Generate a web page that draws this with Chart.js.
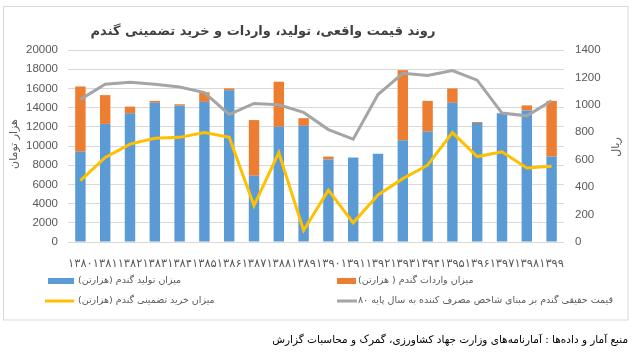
<!DOCTYPE html>
<html><head><meta charset="utf-8">
<script src="https://cdn.jsdelivr.net/npm/chart.js@4"></script>
<style>html,body{margin:0;padding:0;background:#fff;}</style>
</head><body>
<canvas id="c" width="633" height="357"></canvas>
<script>
const years = ['۱۳۸۰','۱۳۸۱','۱۳۸۲','۱۳۸۳','۱۳۸۴','۱۳۸۵','۱۳۸۶','۱۳۸۷','۱۳۸۸','۱۳۸۹','۱۳۹۰','۱۳۹۱','۱۳۹۲','۱۳۹۳','۱۳۹۴','۱۳۹۵','۱۳۹۶','۱۳۹۷','۱۳۹۸','۱۳۹۹'];
const production = [9400,12300,13400,14500,14200,14600,15800,6900,12000,12100,8600,8800,9200,10600,11500,14500,12400,13400,13700,8900];
const imports = [6800,3000,700,200,150,1000,200,5800,4700,800,300,0,0,7300,3200,1500,100,0,530,5800];
const purchase = [6400,8800,10200,10800,10900,11400,10900,3800,9300,1200,5400,2000,4900,6600,8000,11400,8900,9400,7700,7900];
const realPrice = [1040,1150,1165,1150,1130,1090,930,1010,1000,945,820,750,1075,1230,1215,1250,1180,940,920,1030];

const leftTicks = {min:0, max:20000, step:2000};
const rightTicks = {min:0, max:1400, step:200};

const title = 'روند قیمت واقعی، تولید، واردات و خرید تضمینی گندم';
const leftTitle = 'هزار تومان';
const rightTitle = 'ریال';
const legendItems = [
  {text:'میزان تولید گندم (هزارتن)', color:'#5b9bd5', kind:'box'},
  {text:'میزان واردات گندم ( هزارتن)', color:'#ed7d31', kind:'box'},
  {text:'میزان خرید تضمینی گندم (هزارتن)', color:'#ffc000', kind:'line'},
  {text:'قیمت حقیقی گندم بر مبنای شاخص مصرف کننده به سال پایه ۸۰', color:'#a5a5a5', kind:'line'}
];
const footer = 'منبع آمار و داده‌ها : آمارنامه‌های وزارت جهاد کشاورزی، گمرک و محاسبات گزارش';

const AR = '"DejaVu Sans", sans-serif';
function fitSize(ctx, text, width, weight, base) {
  ctx.font = weight + ' 20px ' + AR;
  const w = ctx.measureText(text).width;
  return Math.min(base, 20 * width / w);
}
function drawAr(ctx, text, x, y, size, weight, color, align) {
  ctx.save();
  ctx.direction = 'rtl';
  ctx.font = weight + ' ' + size + 'px ' + AR;
  ctx.fillStyle = color;
  ctx.textAlign = align;
  ctx.textBaseline = 'middle';
  ctx.fillText(text, x, y);
  ctx.restore();
}

const decor = {
  id:'decor',
  beforeDraw(chart) {
    const ctx = chart.ctx;
    ctx.save();
    ctx.fillStyle = '#fff';
    ctx.fillRect(0,0,chart.width,chart.height);
    ctx.strokeStyle = '#d9d9d9';
    ctx.lineWidth = 1;
    ctx.strokeRect(3.5,6.5,624.5,313.5);
    ctx.restore();
  },
  afterDraw(chart) {
    const ctx = chart.ctx;
    drawAr(ctx, title, 263, 32, 13, 'bold', '#404040', 'center');
    ctx.save();
    ctx.translate(14, 144); ctx.rotate(-Math.PI/2);
    drawAr(ctx, leftTitle, 0, 0, 11, 'normal', '#595959', 'center');
    ctx.restore();
    ctx.save();
    ctx.translate(616, 147); ctx.rotate(-Math.PI/2);
    drawAr(ctx, rightTitle, 0, 0, 11, 'normal', '#595959', 'center');
    ctx.restore();
    const pos = [
      {sx:48, sw:26, tx:78, tw:96, y:281},
      {sx:337, sw:19, tx:358, tw:105, y:281},
      {sx:45, sw:29, tx:78, tw:127, y:301},
      {sx:337, sw:20, tx:358, tw:243, y:301}
    ];
    legendItems.forEach((it, i) => {
      const p = pos[i];
      ctx.save();
      if (it.kind === 'box') {
        ctx.fillStyle = it.color;
        ctx.fillRect(p.sx, p.y - 3, p.sw, 6);
      } else {
        ctx.strokeStyle = it.color; ctx.lineWidth = 3;
        ctx.beginPath(); ctx.moveTo(p.sx, p.y); ctx.lineTo(p.sx + p.sw, p.y); ctx.stroke();
      }
      ctx.restore();
      drawAr(ctx, it.text, p.tx, p.y, Math.max(9.5, fitSize(ctx, it.text, p.tw, 'normal', 12)), 'normal', '#595959', 'left');
    });
    drawAr(ctx, footer, 628, 340, Math.max(10.5, fitSize(ctx, footer, 335, 'normal', 13)), 'normal', '#000', 'right');
  }
};

const numFont = {family:'"Liberation Sans", Arial, sans-serif', size:11.5};
const plain = v => String(v);

new Chart(document.getElementById('c'), {
  data: {
    labels: years,
    datasets: [
      {type:'bar', label:'production', data:production, backgroundColor:'#5b9bd5', stack:'bars', yAxisID:'y', order:3, barPercentage:0.42, categoryPercentage:1.0},
      {type:'bar', label:'imports', data:imports, backgroundColor:'#ed7d31', stack:'bars', yAxisID:'y', order:3, barPercentage:0.42, categoryPercentage:1.0},
      {type:'line', label:'purchase', data:purchase, borderColor:'#ffc000', borderWidth:3, pointRadius:0, tension:0, fill:false, stack:'yl', yAxisID:'y', order:1},
      {type:'line', label:'price', data:realPrice, borderColor:'#a5a5a5', borderWidth:3, pointRadius:0, tension:0, fill:false, stack:'gl', yAxisID:'y1', order:2}
    ]
  },
  options: {
    responsive:false, animation:false, devicePixelRatio:1,
    layout:{padding:{top:50, bottom:90, left:0, right:0}},
    plugins:{legend:{display:false}, title:{display:false}, tooltip:{enabled:false}},
    scales:{
      x:{stacked:true, grid:{display:false}, border:{display:false},
         ticks:{autoSkip:false, maxRotation:0, minRotation:0, padding:7, color:'#595959', font:{family:AR, size:11.5}},
         afterFit(s){ s.height = 25; }},
      y:{stacked:true, position:'left', min:leftTicks.min, max:leftTicks.max,
         ticks:{stepSize:leftTicks.step, padding:10, color:'#595959', font:numFont, callback:plain},
         grid:{color:'#d9d9d9', drawTicks:false}, border:{display:false},
         afterFit(s){ s.width = 68; }},
      y1:{position:'right', min:rightTicks.min, max:rightTicks.max,
         ticks:{stepSize:rightTicks.step, padding:11, color:'#595959', font:numFont, callback:plain},
         grid:{display:false, drawTicks:false}, border:{display:false},
         afterFit(s){ s.width = 69; }}
    }
  },
  plugins:[decor]
});
</script>
</body></html>
